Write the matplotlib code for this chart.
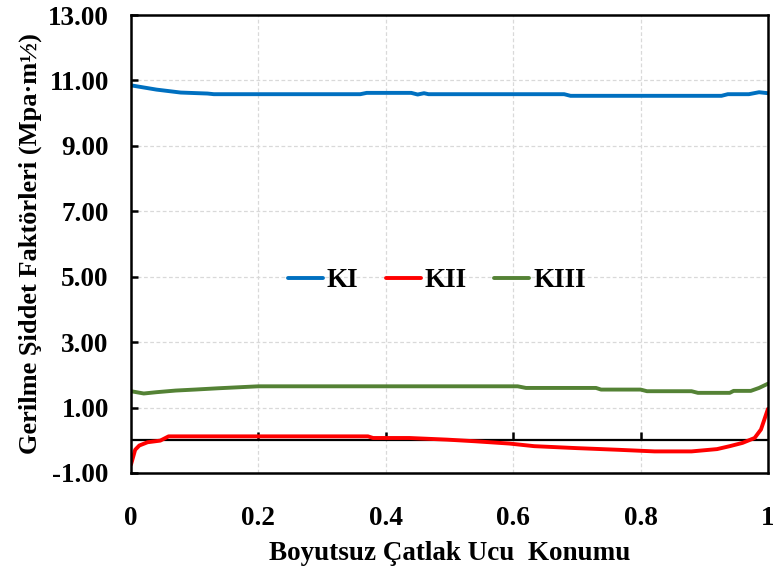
import numpy as np
import matplotlib
matplotlib.use("Agg")
import matplotlib.pyplot as plt

# data
ki_x = [0, 0.04, 0.078, 0.12, 0.13, 0.36, 0.37, 0.44, 0.45, 0.46, 0.467, 0.68, 0.69,
        0.927, 0.937, 0.97, 0.986, 1.0]
ki_y = [10.85, 10.72, 10.63, 10.6, 10.58, 10.58, 10.62, 10.62, 10.57, 10.61, 10.58,
        10.58, 10.53, 10.53, 10.58, 10.58, 10.64, 10.61]

kii_x = [0, 0.0065, 0.013, 0.026, 0.046, 0.059, 0.372, 0.38, 0.437, 0.496, 0.54, 0.594,
         0.633, 0.7, 0.764, 0.822, 0.88, 0.92, 0.94, 0.96, 0.979, 0.989, 1.0]
kii_y = [-0.74, -0.29, -0.16, -0.06, -0.01, 0.12, 0.12, 0.07, 0.07, 0.02, -0.03, -0.1,
         -0.18, -0.24, -0.29, -0.34, -0.34, -0.27, -0.18, -0.08, 0.07, 0.33, 0.96]

kiii_x = [0, 0.02, 0.04, 0.07, 0.1, 0.137, 0.2, 0.607, 0.62, 0.73, 0.738, 0.8, 0.81,
          0.88, 0.89, 0.94, 0.946, 0.973, 0.986, 1.0]
kiii_y = [1.5, 1.43, 1.47, 1.52, 1.55, 1.59, 1.65, 1.65, 1.6, 1.6, 1.55, 1.55, 1.5,
          1.5, 1.45, 1.45, 1.51, 1.51, 1.6, 1.73]

x_ticks = [0, 0.2, 0.4, 0.6, 0.8, 1.0]
x_labels = ["0", "0.2", "0.4", "0.6", "0.8", "1"]
y_ticks = [-1, 1, 3, 5, 7, 9, 11, 13]

plt.rcParams['font.family'] = ['Liberation Serif', 'DejaVu Serif']
plt.rcParams['font.weight'] = 'bold'

fig = plt.figure(figsize=(7.73, 5.67), dpi=100)
ax = fig.add_axes([0.1695, 0.1658, 0.824, 0.8077])

ax.plot(ki_x, ki_y, color='#0070C0', lw=2.8, label='KI', solid_capstyle='round')
ax.plot(kii_x, kii_y, color='#FF0000', lw=2.8, label='KII', solid_capstyle='round')
ax.plot(kiii_x, kiii_y, color='#548235', lw=2.8, label='KIII', solid_capstyle='round')

ax.set_xlim(0, 1)
ax.set_ylim(-1, 13)
ax.set_yticks(y_ticks)
ax.set_yticklabels([f"{v:.2f}" for v in y_ticks])
ax.set_xticks(x_ticks)
ax.set_xticklabels(x_labels)

ax.grid(True, color='#D9D9D9', ls=(0, (3, 2)), lw=0.9)
ax.set_axisbelow(True)
for s in ax.spines.values():
    s.set_linewidth(1.8)

ax.tick_params(axis='y', direction='in', length=5, width=1.8, labelsize=19.5, pad=16)
ax.tick_params(axis='x', length=0, labelsize=19.5, pad=24)

# horizontal axis crossing at zero, with small upward ticks
ax.axhline(0, color='black', lw=1.6, zorder=1.5)
ax.vlines(x_ticks[1:-1], 0, 0.24, color='black', lw=1.8, zorder=1.5)

ax.set_xlabel('Boyutsuz Çatlak Ucu  Konumu', fontsize=19.5, fontweight='bold', labelpad=7)
ax.set_ylabel('Gerilme Şiddet Faktörleri (Mpa·m½)', fontsize=19, fontweight='bold', labelpad=4)

ax.legend(loc='center', bbox_to_anchor=(0.48, 0.42), ncol=3, frameon=False,
          prop={'size': 19.5, 'weight': 'bold'}, handlelength=1.3, handletextpad=0.15,
          columnspacing=1.0)

fig.savefig('out.png', dpi=100)
